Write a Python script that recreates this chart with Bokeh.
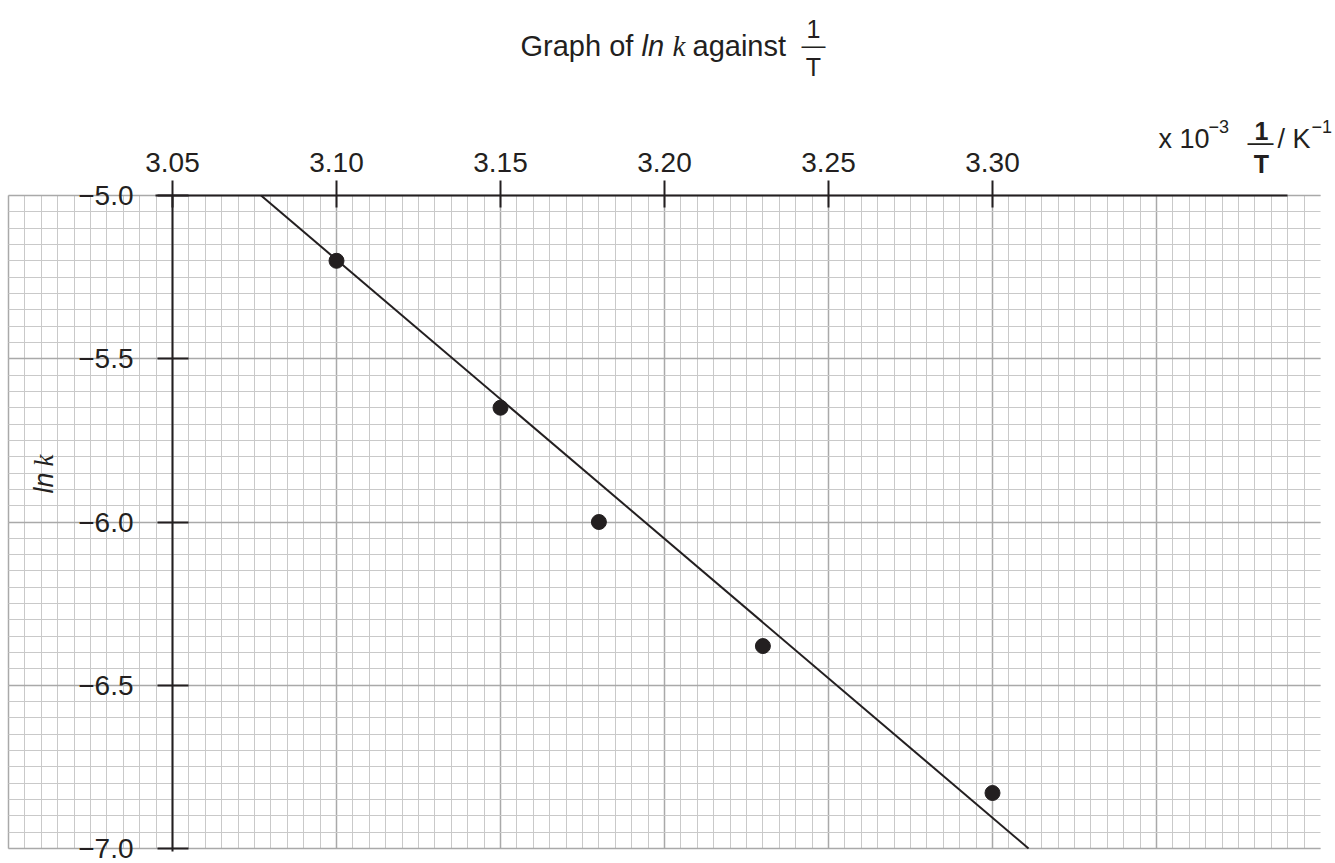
import math
from bokeh.plotting import figure
from bokeh.models import (LinearAxis, FixedTicker, SingleIntervalTicker, Grid,
                          Label, Range1d)
from bokeh.embed import file_html
from bokeh.resources import INLINE

# ---- data ----
inv_T = [3.10, 3.15, 3.18, 3.23, 3.30]          # 1/T  (x 10^-3 K^-1)
ln_k = [-5.20, -5.65, -6.00, -6.38, -6.83]      # ln k
fit_x = [3.077, 3.311]                          # best-fit line ends
fit_y = [-5.0, -7.0]
x_ticks = [3.05, 3.10, 3.15, 3.20, 3.25, 3.30]
x_tick_labels = ["3.05", "3.10", "3.15", "3.20", "3.25", "3.30"]
y_ticks = [-5.0, -5.5, -6.0, -6.5, -7.0]
y_tick_labels = ["\u22125.0", "\u22125.5", "\u22126.0", "\u22126.5", "\u22127.0"]
paper_x = (3.00, 3.40)       # extent of the graph paper
paper_y = (-7.0, -5.0)

INK = "#231f20"
FONT = "Liberation Sans"
SERIF = "Liberation Serif"

W, H = 1335, 863
# paper placement on the canvas (pixels)
X0_PX, Y0_PX = 8, 195          # where (3.00, -5.0) sits
SX = 1312 / (paper_x[1] - paper_x[0])   # px per x unit
SY = 653 / (paper_y[1] - paper_y[0])    # px per y unit

def dx(px):
    return paper_x[0] + (px - X0_PX) / SX

def dy(py):
    return paper_y[1] - (py - Y0_PX) / SY

p = figure(width=W, height=H, x_range=Range1d(dx(0), dx(W)), y_range=Range1d(dy(H), dy(0)),
           output_backend="svg", toolbar_location=None,
           x_axis_location=None, y_axis_location=None,
           min_border_left=0, min_border_right=0, min_border_top=0, min_border_bottom=0)
p.outline_line_color = None
p.background_fill_color = "white"
p.border_fill_color = "white"
for g in list(p.xgrid) + list(p.ygrid):
    g.visible = False

# ---- graph paper ----
for dim, interval, b, cb in ((0, 0.05, paper_x, paper_y), (1, 0.5, paper_y, paper_x)):
    g = Grid(dimension=dim, ticker=SingleIntervalTicker(interval=interval, num_minor_ticks=10),
             bounds=b, cross_bounds=cb,
             grid_line_color="#a9a9a9", grid_line_width=1.5,
             minor_grid_line_color="#c9c9c9", minor_grid_line_width=1)
    p.add_layout(g, "center")

# ---- axes ----
def style_axis(ax):
    ax.axis_line_color = INK
    ax.axis_line_width = 2
    ax.major_tick_line_color = INK
    ax.major_tick_line_width = 2
    ax.minor_tick_line_color = None
    ax.major_label_text_font = FONT
    ax.major_label_text_font_size = "28px"
    ax.major_label_text_color = INK

xax = LinearAxis(fixed_location=paper_y[1], ticker=FixedTicker(ticks=x_ticks),
                 major_label_overrides=dict(zip(x_ticks, x_tick_labels)),
                 bounds=(3.0448, 3.39))
style_axis(xax)
xax.major_tick_out = 15
xax.major_tick_in = 12
xax.major_label_standoff = 9
p.add_layout(xax, "above")

yax = LinearAxis(fixed_location=3.05, ticker=FixedTicker(ticks=y_ticks),
                 major_label_overrides=dict(zip(y_ticks, y_tick_labels)),
                 bounds=(-7.01, -5.0))
style_axis(yax)
yax.major_tick_out = 15
yax.major_tick_in = 16
yax.major_label_standoff = 24
yax.major_label_text_baseline = "hanging"
p.add_layout(yax, "left")

# ---- marks ----
p.line(fit_x, fit_y, line_color=INK, line_width=2)
p.scatter(inv_T, ln_k, size=15, fill_color=INK, line_color=INK)

# ---- texts (positions given in canvas pixels of the glyph baseline) ----
BASE_FIX = 10   # Label draws its alphabetic baseline this many px lower

def lab(text, px, py, size="27px", font=FONT, style="normal", align="left", angle=0.0):
    if angle == 0.0:
        py -= BASE_FIX
    else:
        px -= BASE_FIX
    p.add_layout(Label(x=dx(px), y=dy(py), text=text, text_font=font,
                       text_font_size=size, text_font_style=style, text_color=INK,
                       text_align=align, text_baseline="alphabetic", angle=angle))

# title
t0 = 520
lab("Graph of", t0, 55, size="29px")
lab("ln", t0 + 121, 55, size="29px", style="italic")
lab("k", t0 + 152, 55, size="29px", font=SERIF, style="italic")
lab("against", t0 + 172, 55, size="29px")
lab("1", 813, 38, size="25px", align="center")
lab("\u2014", 813, 54, size="24px", align="center")
lab("T", 813, 76, size="25px", align="center")

# x-axis label
lab("x 10", 1158, 148)
lab("\u22123", 1208, 136, size="18px")
lab("1", 1261, 140, size="25px", style="bold", align="center")
lab("\u2014", 1260, 151, size="26px", align="center")
lab("T", 1261, 173, size="25px", style="bold", align="center")
lab("/ K", 1277, 148)
lab("\u22121", 1311, 136, size="18px")

# y-axis label
lab("ln", 53, 493, style="italic", angle=math.pi / 2)
lab("k", 53, 466, font=SERIF, style="italic", angle=math.pi / 2)

open("out.html", "w").write(file_html(p, INLINE))
